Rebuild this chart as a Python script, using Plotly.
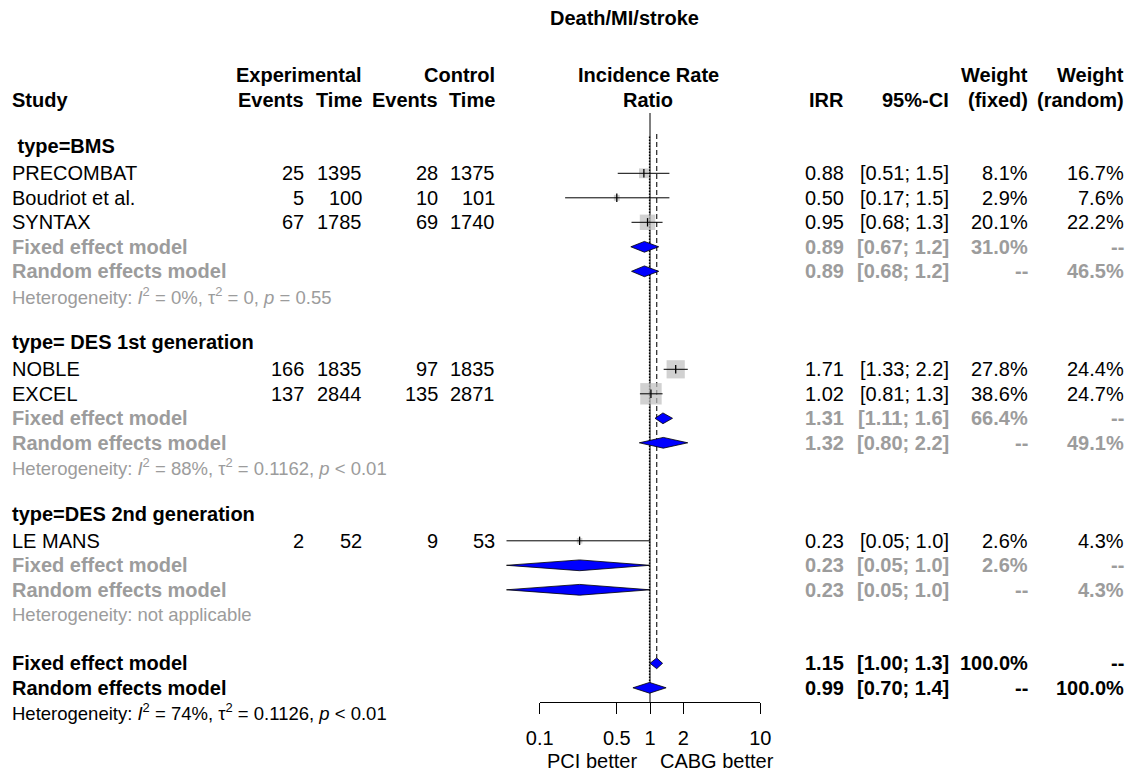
import math
import plotly.graph_objects as go

# ---------------- data ----------------
title = "Death/MI/stroke"
study = ["PRECOMBAT", "Boudriot et al.", "SYNTAX", "NOBLE", "EXCEL", "LE MANS"]
group = [0, 0, 0, 1, 1, 2]
exp_events = [25, 5, 67, 166, 137, 2]
exp_time = [1395, 100, 1785, 1835, 2844, 52]
ctl_events = [28, 10, 69, 97, 135, 9]
ctl_time = [1375, 101, 1740, 1835, 2871, 53]
irr = [0.88, 0.50, 0.95, 1.71, 1.02, 0.23]
ci_lo = [0.51, 0.17, 0.68, 1.33, 0.81, 0.05]
ci_hi = [1.5, 1.5, 1.3, 2.2, 1.3, 1.0]
w_fixed = [8.1, 2.9, 20.1, 27.8, 38.6, 2.6]
w_random = [16.7, 7.6, 22.2, 24.4, 24.7, 4.3]

sub_labels = [" type=BMS", "type= DES 1st generation", "type=DES 2nd generation"]
sub_fix = [0.89, 1.31, 0.23]
sub_fix_lo = [0.67, 1.11, 0.05]
sub_fix_hi = [1.2, 1.6, 1.0]
sub_fix_w = [31.0, 66.4, 2.6]
sub_ran = [0.89, 1.32, 0.23]
sub_ran_lo = [0.68, 0.80, 0.05]
sub_ran_hi = [1.2, 2.2, 1.0]
sub_ran_w = [46.5, 49.1, 4.3]
sub_het = [
    "Heterogeneity: <i>I</i><sup>2</sup> = 0%, τ<sup>2</sup> = 0, <i>p</i> = 0.55",
    "Heterogeneity: <i>I</i><sup>2</sup> = 88%, τ<sup>2</sup> = 0.1162, <i>p</i> < 0.01",
    "Heterogeneity: not applicable",
]
all_fix, all_fix_lo, all_fix_hi = 1.15, 1.00, 1.3
all_ran, all_ran_lo, all_ran_hi = 0.99, 0.70, 1.4
all_het = "Heterogeneity: <i>I</i><sup>2</sup> = 74%, τ<sup>2</sup> = 0.1126, <i>p</i> < 0.01"

tick_vals = [0.1, 0.5, 1, 2, 10]
tick_text = ["0.1", "0.5", "1", "2", "10"]
left_label = "PCI better"
right_label = "CABG better"

# ---------------- layout constants ----------------
W, H = 1132, 772
FONT = "Liberation Sans, Arial, sans-serif"
FS = 20
FS_HET = 18.5
GRAY = "#9c9c9c"
BOX = "#bebebe"
DIAM = "#0000ff"
X0PX, DEC = 650.0, 110.3          # pixel of ratio 1, pixels per decade
Y0PX, ROWPX = 99.8, 24.5          # pixel of row 0, pixels per row
HH = 0.22                          # half height of diamonds (rows)

def px(x):
    return x / W

def row_of_px(y):
    return (y - Y0PX) / ROWPX

annotations = []

def txt(s, xpx, row, anchor="left", bold=False, color="black", size=FS):
    if bold:
        s = "<b>" + s + "</b>"
    annotations.append(dict(text=s, x=px(xpx), y=row, xref="paper", yref="y",
                            xanchor=anchor, yanchor="middle", showarrow=False,
                            font=dict(family=FONT, size=size, color=color)))

def ci_str(lo, hi):
    return "[%.2f; %.1f]" % (lo, hi)

# column positions (px)
C_STUDY, C_EE, C_ET, C_CE, C_CT = 10, 306, 364, 440, 497
C_IRR, C_CI, C_WF, C_WR, C_MID = 846, 951, 1030, 1126, 648

# headers
annotations.append(dict(text="<b>" + title + "</b>", x=px(624), y=row_of_px(18), xref="paper",
                        yref="y", xanchor="center", yanchor="middle", showarrow=False,
                        font=dict(family=FONT, size=FS, color="black")))
txt("Experimental", C_ET, -1, "right", True)
txt("Control", C_CT, -1, "right", True)
txt("Incidence Rate", C_MID, -1, "center", True)
txt("Weight", C_WF, -1, "right", True)
txt("Weight", C_WR, -1, "right", True)
txt("Study", C_STUDY, 0, "left", True)
txt("Events", C_EE, 0, "right", True)
txt("Time", C_ET, 0, "right", True)
txt("Events", C_CE, 0, "right", True)
txt("Time", C_CT, 0, "right", True)
txt("Ratio", C_MID, 0, "center", True)
txt("IRR", C_IRR, 0, "right", True)
txt("95%-CI", C_CI, 0, "right", True)
txt("(fixed)", C_WF, 0, "right", True)
txt("(random)", C_WR, 0, "right", True)

traces = []
ci_x, ci_y = [], []
sq_x, sq_y, sq_s = [], [], []
diamonds = []

row = 2
for g in range(len(sub_labels)):
    txt(sub_labels[g], C_STUDY, row - 0.1, "left", True)
    row += 1
    for i in range(len(study)):
        if group[i] != g:
            continue
        txt(study[i], C_STUDY, row)
        txt(str(exp_events[i]), C_EE, row, "right")
        txt(str(exp_time[i]), C_ET, row, "right")
        txt(str(ctl_events[i]), C_CE, row, "right")
        txt(str(ctl_time[i]), C_CT, row, "right")
        txt("%.2f" % irr[i], C_IRR, row, "right")
        txt(ci_str(ci_lo[i], ci_hi[i]), C_CI, row, "right")
        txt("%.1f%%" % w_fixed[i], C_WF, row, "right")
        txt("%.1f%%" % w_random[i], C_WR, row, "right")
        ci_x += [ci_lo[i], ci_hi[i], None]
        ci_y += [row, row, None]
        sq_x.append(irr[i]); sq_y.append(row); sq_s.append(3.45 * math.sqrt(w_fixed[i]))
        row += 1
    txt("Fixed effect model", C_STUDY, row, "left", True, GRAY)
    txt("%.2f" % sub_fix[g], C_IRR, row, "right", True, GRAY)
    txt(ci_str(sub_fix_lo[g], sub_fix_hi[g]), C_CI, row, "right", True, GRAY)
    txt("%.1f%%" % sub_fix_w[g], C_WF, row, "right", True, GRAY)
    txt("--", C_WR, row, "right", True, GRAY)
    diamonds.append((sub_fix_lo[g], sub_fix[g], sub_fix_hi[g], row))
    row += 1
    txt("Random effects model", C_STUDY, row, "left", True, GRAY)
    txt("%.2f" % sub_ran[g], C_IRR, row, "right", True, GRAY)
    txt(ci_str(sub_ran_lo[g], sub_ran_hi[g]), C_CI, row, "right", True, GRAY)
    txt("--", C_WF, row, "right", True, GRAY)
    txt("%.1f%%" % sub_ran_w[g], C_WR, row, "right", True, GRAY)
    diamonds.append((sub_ran_lo[g], sub_ran[g], sub_ran_hi[g], row))
    row += 1
    txt(sub_het[g], C_STUDY, row, "left", False, GRAY, FS_HET)
    row += 2

row_fix = row
txt("Fixed effect model", C_STUDY, row_fix, "left", True)
txt("%.2f" % all_fix, C_IRR, row_fix, "right", True)
txt(ci_str(all_fix_lo, all_fix_hi), C_CI, row_fix, "right", True)
txt("100.0%", C_WF, row_fix, "right", True)
txt("--", C_WR, row_fix, "right", True)
diamonds.append((all_fix_lo, all_fix, all_fix_hi, row_fix))
row_ran = row + 1
txt("Random effects model", C_STUDY, row_ran, "left", True)
txt("%.2f" % all_ran, C_IRR, row_ran, "right", True)
txt(ci_str(all_ran_lo, all_ran_hi), C_CI, row_ran, "right", True)
txt("--", C_WF, row_ran, "right", True)
txt("100.0%", C_WR, row_ran, "right", True)
diamonds.append((all_ran_lo, all_ran, all_ran_hi, row_ran))
txt(all_het, C_STUDY, row + 2, "left", False, "black", FS_HET)

axis_px = 702
txt(left_label, 592, row_of_px(761), "center")
txt(right_label, 717, row_of_px(761), "center")

# reference lines
traces.append(go.Scatter(x=[1, 1], y=[row_of_px(113), row_of_px(axis_px)], mode="lines",
                         line=dict(color="black", width=1), hoverinfo="skip"))
traces.append(go.Scatter(x=[all_fix, all_fix], y=[1.4, row_fix - HH], mode="lines",
                         line=dict(color="#333333", width=1.3, dash="5px,3px"), hoverinfo="skip"))
traces.append(go.Scatter(x=[all_ran, all_ran], y=[1.5, row_ran - HH], mode="lines",
                         line=dict(color="black", width=1.3, dash="1.5px,1.5px"), hoverinfo="skip"))

# squares
traces.append(go.Scatter(x=sq_x, y=sq_y, mode="markers",
                         marker=dict(symbol="square", size=sq_s, color=BOX, line=dict(width=0)),
                         hoverinfo="skip"))
# CI lines
traces.append(go.Scatter(x=ci_x, y=ci_y, mode="lines", line=dict(color="black", width=1),
                         hoverinfo="skip"))
# estimate ticks
traces.append(go.Scatter(x=sq_x, y=sq_y, mode="markers",
                         marker=dict(symbol="line-ns", size=6, color="black",
                                     line=dict(color="black", width=1.3)),
                         hoverinfo="skip"))
# diamonds
for lo, est, hi, r in diamonds:
    traces.append(go.Scatter(x=[lo, est, hi, est, lo], y=[r, r - HH, r, r + HH, r],
                             mode="lines", fill="toself", fillcolor=DIAM,
                             line=dict(color="black", width=0.8), hoverinfo="skip"))

# invisible anchor trace so the tick axis subplot is drawn
traces.append(go.Scatter(x=[tick_vals[2]], y=[0.5], xaxis="x2", yaxis="y2", mode="markers",
                         marker=dict(opacity=0), hoverinfo="skip"))

fig = go.Figure(traces)
fig.update_layout(
    width=W, height=H, margin=dict(l=0, r=0, t=0, b=0, pad=0, autoexpand=False),
    paper_bgcolor="white", plot_bgcolor="rgba(0,0,0,0)", showlegend=False,
    annotations=annotations,
    xaxis=dict(type="log", domain=[0, 1], range=[-X0PX / DEC, (W - X0PX) / DEC], visible=False),
    yaxis=dict(domain=[0, 1], range=[row_of_px(H), row_of_px(0)], visible=False),
    xaxis2=dict(type="log", domain=[px(X0PX - DEC), px(X0PX + DEC)], range=[-1, 1],
                anchor="y2", showline=True, linecolor="black", linewidth=1,
                ticks="outside", ticklen=11, tickwidth=1, tickcolor="black",
                tickvals=tick_vals, ticktext=tick_text, showgrid=False, zeroline=False,
                tickfont=dict(family=FONT, size=FS, color="black"), ticklabelstandoff=7),
    yaxis2=dict(domain=[(H - axis_px) / H, 1], anchor="x2", visible=False, range=[0, 1]),
)
fig.write_html("out.html", config={"displayModeBar": False},
               post_script="document.body.style.margin='0';document.body.style.overflow='hidden';")
